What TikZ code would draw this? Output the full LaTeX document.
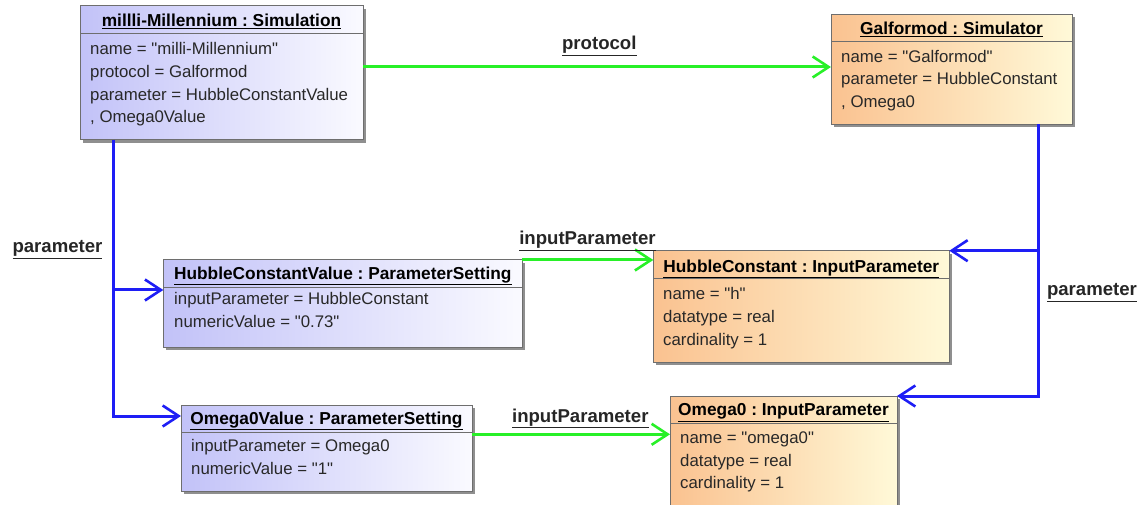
\documentclass[tikz,border=0pt]{standalone}
\usepackage{fontspec}
\setmainfont{Liberation Sans}
\usetikzlibrary{arrows.meta,shadows}
\frenchspacing
\newcommand{\dq}{\XeTeXglyph\XeTeXcharglyph"22\relax}
\definecolor{bl}{RGB}{194,194,248}
\definecolor{bw}{RGB}{250,250,255}
\definecolor{ol}{RGB}{250,194,144}
\definecolor{ow}{RGB}{255,249,216}
\definecolor{edgec}{RGB}{110,110,110}
\definecolor{assocG}{RGB}{40,240,40}
\definecolor{assocB}{RGB}{30,30,245}
\definecolor{txt}{RGB}{40,40,40}
\tikzset{
  obj/.style={draw=edgec, line width=1pt, anchor=north west, inner sep=0pt, outer sep=0pt,
    drop shadow={shadow xshift=3pt, shadow yshift=-3pt, fill=black!55, opacity=0.8}},
  objB/.style={obj, left color=bl, right color=bw},
  objO/.style={obj, left color=ol, right color=ow},
  hdr/.style={draw=edgec, line width=1pt},
  ttl/.style={font=\fontsize{17.3}{20}\selectfont\bfseries\frenchspacing, anchor=base, inner sep=0pt, text=black},
  attr/.style={font=\fontsize{16.8}{20}\selectfont\frenchspacing, anchor=base west, inner sep=0pt, text=txt},
  lbl/.style={font=\fontsize{18.6}{20}\selectfont\bfseries, anchor=base, inner sep=0pt, text=black!85},
  assocg/.style={draw=assocG, line width=3pt, -{Straight Barb[length=16pt,width=21pt,line width=2.6pt]}},
  assocb/.style={draw=assocB, line width=3pt, -{Straight Barb[length=16pt,width=21pt,line width=2.6pt]}},
}
\begin{document}
\begin{tikzpicture}[x=1pt,y=-1pt]
\useasboundingbox (0,0) rectangle (1144,505);
% boxes
\node[objB, minimum width=283pt, minimum height=134pt] (sim) at (80,6) {};
\node[objO, minimum width=241pt, minimum height=110pt] (gal) at (831,14.3) {};
\node[objB, minimum width=359pt, minimum height=87.3pt] (hcv) at (163.3,260) {};
\node[objO, minimum width=296pt, minimum height=111.6pt] (hc) at (653.3,250.7) {};
\node[objB, minimum width=291pt, minimum height=86pt] (ov) at (181,405) {};
\node[objO, minimum width=227pt, minimum height=125pt] (oz) at (670,396) {};
% header separators
\foreach \b in {sim,gal,hcv,hc,ov,oz}{
  \draw[hdr] ([yshift=-27.5pt]\b.north west) -- ([yshift=-27.5pt]\b.north east);
}
% titles
\node[ttl] (t1) at (221.5,27) {\underline{millli-Millennium : Simulation}};
\node[ttl] (t2) at (951.5,34.3) {\underline{Galformod : Simulator}};
\node[ttl] (t3) at (342.8,279.3) {\underline{HubbleConstantValue : ParameterSetting}};
\node[ttl] (t4) at (801.3,272.3) {\underline{HubbleConstant : InputParameter}};
\node[ttl] (t5) at (326.5,424.3) {\underline{Omega0Value : ParameterSetting}};
\node[ttl] (t6) at (783.5,415.7) {\underline{Omega0 : InputParameter}};
% attributes
\node[attr] (a11) at (90,55) {name = \dq milli-Millennium\dq};
\node[attr] (a12) at (90,77.7) {protocol = Galformod};
\node[attr] (a13) at (90,100.4) {parameter = HubbleConstantValue};
\node[attr] (a14) at (90,123) {, Omega0Value};
\node[attr] (a21) at (841,62.3) {name = \dq Galformod\dq};
\node[attr] (a22) at (841,85) {parameter = HubbleConstant};
\node[attr] (a23) at (841,107.7) {, Omega0};
\node[attr] (a31) at (174,305) {inputParameter = HubbleConstant};
\node[attr] (a32) at (174,327.7) {numericValue = \dq 0.73\dq};
\node[attr] (a41) at (663,300) {name = \dq h\dq};
\node[attr] (a42) at (663,322.5) {datatype = real};
\node[attr] (a43) at (663,345) {cardinality = 1};
\node[attr] (a51) at (191,451.7) {inputParameter = Omega0};
\node[attr] (a52) at (191,474.4) {numericValue = \dq 1\dq};
\node[attr] (a61) at (680,443.3) {name = \dq omega0\dq};
\node[attr] (a62) at (680,466) {datatype = real};
\node[attr] (a63) at (680,488.7) {cardinality = 1};
% green links
\coordinate (g0) at ([yshift=-61pt]sim.north east);
\draw[assocg] (g0) -- (g0 -| gal.west);
\draw[assocg] (hcv.north east) -- (hcv.north east -| hc.west);
\coordinate (g2) at ([yshift=-29.3pt]ov.north east);
\draw[assocg] (g2) -- (g2 -| oz.west);
% blue links
\coordinate (trL) at (113,0);
\coordinate (trR) at (1038,0);
\coordinate (b1) at (0,290);
\coordinate (b2) at (0,416);
\draw[assocb] (sim.south -| trL) |- (hcv.west |- b1);
\draw[assocb] (sim.south -| trL) |- (ov.west |- b2);
\draw[assocb] (gal.south -| trR) |- (hc.north east);
\draw[assocb] (gal.south -| trR) |- (oz.north east);
% labels
\node[lbl] (l1) at (599.3,50) {\underline{protocol}};
\node[lbl] (l2) at (587.5,245) {\underline{inputParameter}};
\node[lbl] (l3) at (580.3,422.3) {\underline{inputParameter}};
\node[lbl] (l4) at (57.5,253) {\underline{parameter}};
\node[lbl] (l5) at (1092,296) {\underline{parameter}};
\end{tikzpicture}
\end{document}
